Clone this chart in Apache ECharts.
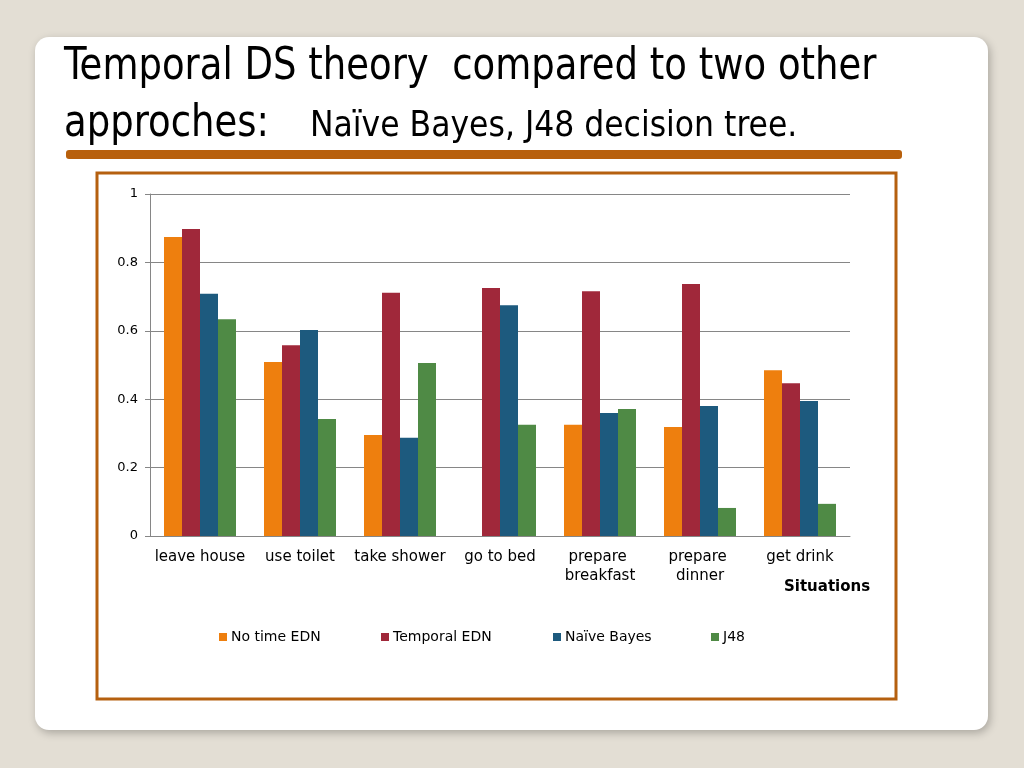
<!DOCTYPE html>
<html>
<head>
<meta charset="utf-8">
<script src="https://cdn.jsdelivr.net/npm/echarts@6/dist/echarts.min.js"></script>
<style>
  html, body { margin: 0; padding: 0; background: #e3ded4; }
  #chart { width: 1024px; height: 768px; }
</style>
</head>
<body>
<div id="chart"></div>
<script>
// situations on the x axis
const situations = ['leave house', 'use toilet', 'take shower', 'go to bed', 'prepare breakfast', 'prepare dinner', 'get drink'];
const seriesNames = ['No time EDN', 'Temporal EDN', 'Naïve Bayes', 'J48'];
const noTimeEDN   = [0.874, 0.509, 0.295, 0,     0.325, 0.319, 0.485];
const temporalEDN = [0.898, 0.558, 0.711, 0.725, 0.716, 0.737, 0.447];
const naiveBayes  = [0.708, 0.602, 0.287, 0.675, 0.360, 0.380, 0.395];
const j48         = [0.634, 0.342, 0.506, 0.325, 0.371, 0.082, 0.094];
const yTicks = [0, 0.2, 0.4, 0.6, 0.8, 1];

const colors = ['#ee7f0e', '#a0283a', '#1d5a7e', '#4f8a45'];
const chartFont = 'DejaVu Sans, Verdana, sans-serif';
const titleFont = '"Liberation Sans Narrow", "DejaVu Sans Condensed", "Open Sans", sans-serif';

const chart = echarts.init(document.getElementById('chart'));

const values = [noTimeEDN, temporalEDN, naiveBayes, j48];
const legendLeft = [214, 376, 548, 706];

const option = {
  animation: false,
  backgroundColor: '#e3ded4',
  color: colors,
  graphic: [
    // slide card
    {
      type: 'rect', z: -10,
      shape: { x: 35, y: 37, width: 953, height: 693, r: 14 },
      style: { fill: '#ffffff', shadowBlur: 8, shadowOffsetX: 2, shadowOffsetY: 3, shadowColor: 'rgba(0,0,0,0.25)' }
    },
    // title
    {
      type: 'text', x: 64, y: 46, scaleX: 0.935,
      style: { text: 'Temporal DS theory  compared to two other', font: '44px ' + titleFont, fill: '#000' }
    },
    {
      type: 'text', x: 64, y: 103, scaleX: 0.935,
      style: { text: 'approches:', font: '44px ' + titleFont, fill: '#000' }
    },
    {
      type: 'text', x: 310, y: 109,
      style: { text: 'Naïve Bayes, J48 decision tree.', font: '35px ' + titleFont, fill: '#000' }
    },
    // orange rule under the title
    {
      type: 'rect',
      shape: { x: 66, y: 150, width: 836, height: 9, r: 3 },
      style: { fill: '#b8600c' }
    },
    // chart frame
    {
      type: 'rect',
      shape: { x: 97, y: 173, width: 799, height: 526 },
      style: { fill: 'none', stroke: '#b5600f', lineWidth: 3 }
    },
    {
      type: 'text', left: 784, top: 580,
      style: { text: 'Situations', font: 'bold 15px ' + chartFont, fill: '#000' }
    }
  ],
  legend: seriesNames.map((name, i) => ({
    data: [name],
    left: legendLeft[i],
    top: 625,
    itemWidth: 8,
    itemHeight: 8,
    itemGap: 4,
    icon: 'rect',
    textStyle: { fontFamily: chartFont, fontSize: 14, color: '#000', padding: [0, 0, 0, -1] }
  })),
  grid: { left: 150, right: 174, top: 194, bottom: 232 },
  xAxis: {
    type: 'category',
    data: situations,
    axisLine: { lineStyle: { color: '#868686' } },
    axisTick: { length: 5, lineStyle: { color: '#868686' } },
    axisLabel: {
      interval: 0, margin: 12, width: 104, overflow: 'break',
      fontFamily: chartFont, fontSize: 15, color: '#000', lineHeight: 19
    }
  },
  yAxis: {
    type: 'value',
    min: yTicks[0],
    max: yTicks[yTicks.length - 1],
    interval: 0.2,
    axisLine: { show: true, lineStyle: { color: '#868686' } },
    axisTick: { show: true, length: 5, lineStyle: { color: '#868686' } },
    splitLine: { lineStyle: { color: '#868686' } },
    axisLabel: { fontFamily: chartFont, fontSize: 13, color: '#000', margin: 12 }
  },
  series: seriesNames.map((name, i) => ({
    name: name,
    type: 'bar',
    data: values[i],
    barGap: '0%',
    barCategoryGap: '28%',
    itemStyle: { color: colors[i] }
  }))
};

chart.setOption(option);
</script>
</body>
</html>
